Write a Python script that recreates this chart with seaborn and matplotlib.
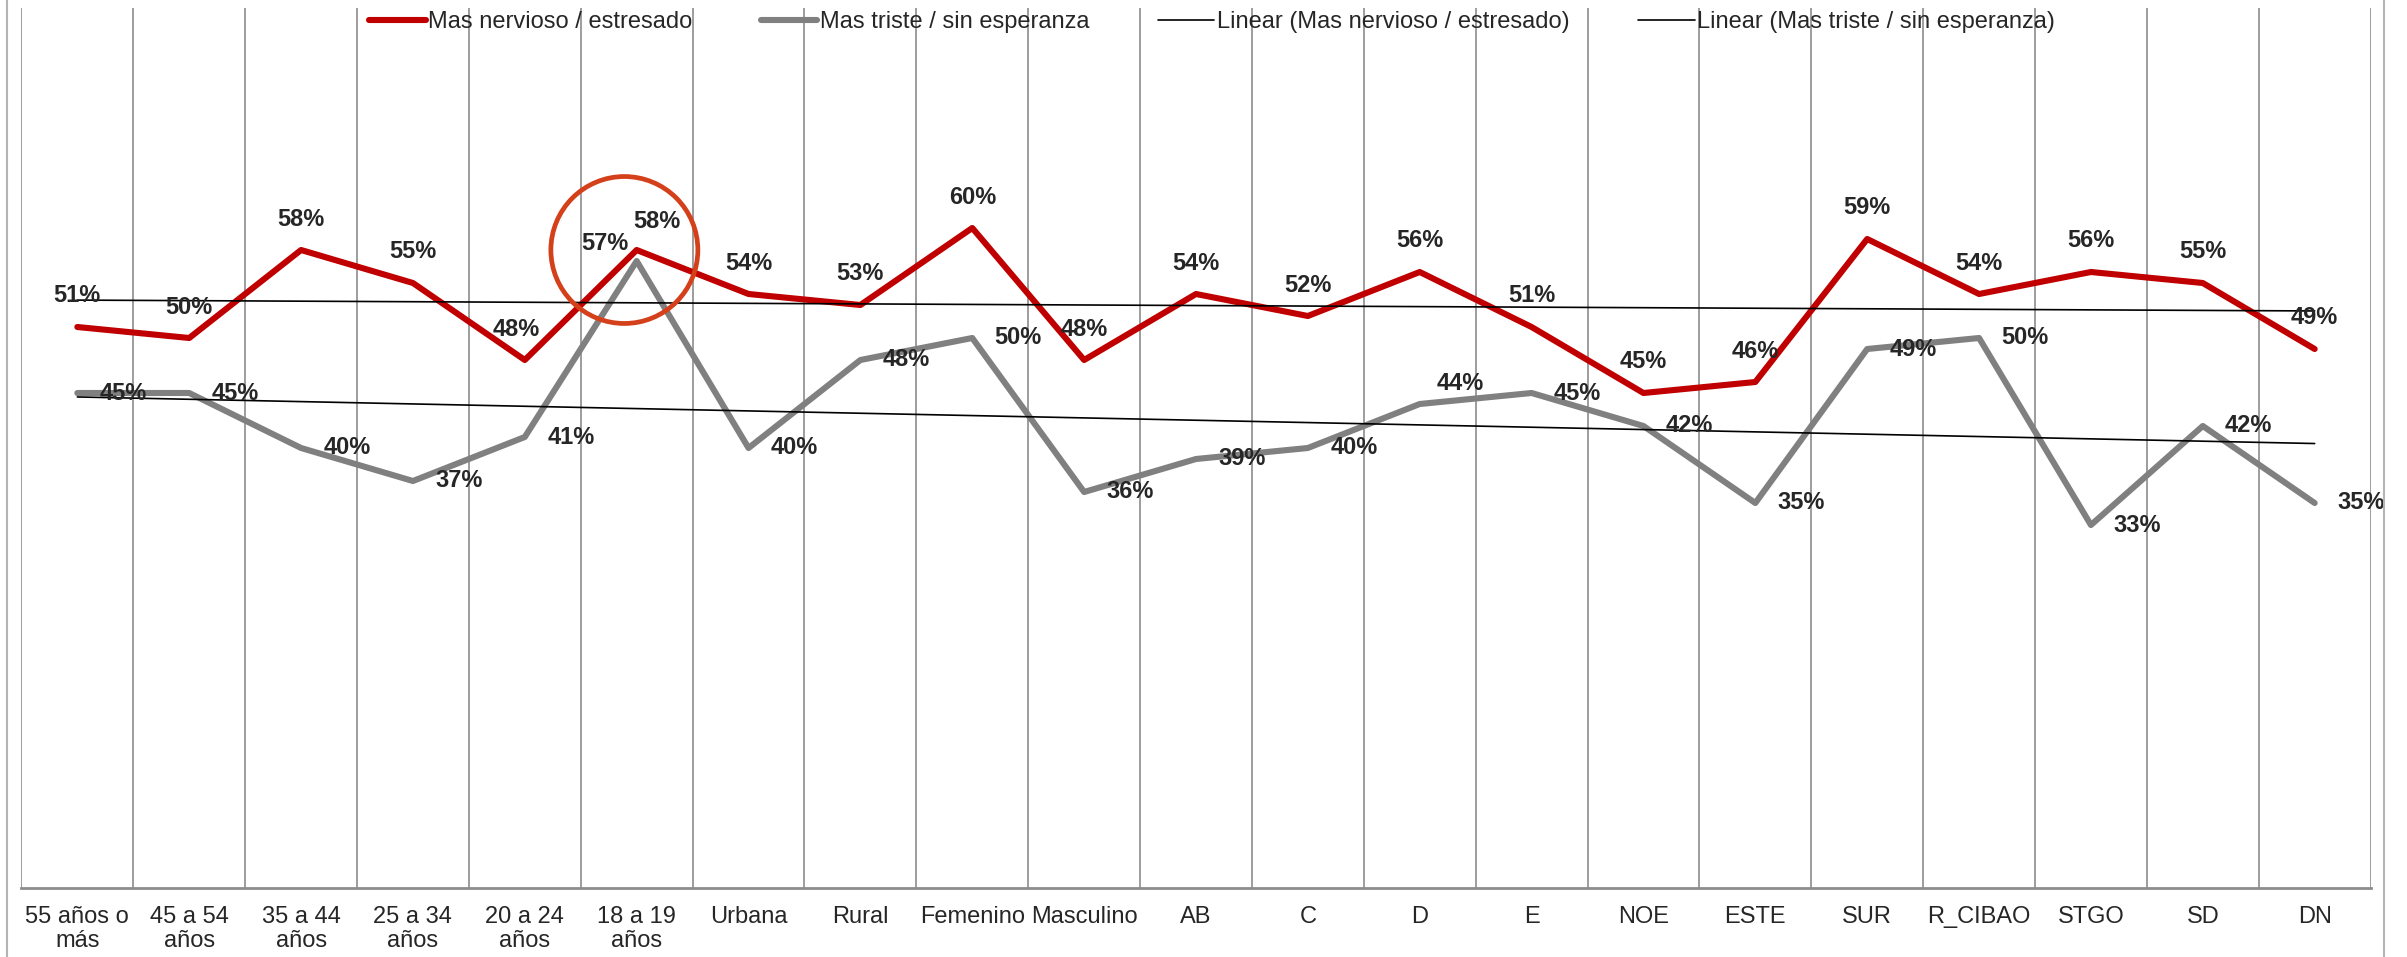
import matplotlib
matplotlib.use("Agg")
import matplotlib.pyplot as plt
from matplotlib.lines import Line2D
from matplotlib.patches import Ellipse
import numpy as np
import pandas as pd
import seaborn as sns

categories = [
    "55 años o\nmás", "45 a 54\naños", "35 a 44\naños", "25 a 34\naños",
    "20 a 24\naños", "18 a 19\naños", "Urbana", "Rural", "Femenino",
    "Masculino", "AB", "C", "D", "E", "NOE", "ESTE", "SUR", "R_CIBAO",
    "STGO", "SD", "DN",
]
nervioso = [51, 50, 58, 55, 48, 58, 54, 53, 60, 48, 54, 52, 56, 51, 45, 46, 59, 54, 56, 55, 49]
triste = [45, 45, 40, 37, 41, 57, 40, 48, 50, 36, 39, 40, 44, 45, 42, 35, 49, 50, 33, 42, 35]

lbl_nervioso = "Mas nervioso / estresado"
lbl_triste = "Mas triste / sin esperanza"

RED = "#c00000"
GREY = "#808080"
GRID = "#8c8c8c"
FS = 17
LW = 4.4

sns.set_style("white")
plt.rcParams["font.family"] = ["Liberation Sans", "DejaVu Sans"]

df = pd.DataFrame({
    "pos": np.arange(len(categories)),
    "nervioso": np.array(nervioso) / 100,
    "triste": np.array(triste) / 100,
})

W, H = 2407, 957
fig = plt.figure(figsize=(W / 100, H / 100), dpi=100)
ax = fig.add_axes([21.4 / W, 1 - 888 / H, (2370.6 - 21.4) / W, 880 / H])

sns.lineplot(data=df, x="pos", y="nervioso", color=RED, lw=LW, ax=ax)
sns.lineplot(data=df, x="pos", y="triste", color=GREY, lw=LW, ax=ax)
sns.regplot(data=df, x="pos", y="nervioso", scatter=False, ci=None, color="black", ax=ax,
            line_kws={"lw": 1.2})
sns.regplot(data=df, x="pos", y="triste", scatter=False, ci=None, color="black", ax=ax,
            line_kws={"lw": 1.2})

# data labels: red above the point, grey to the right (a few moved by hand)
red_off = {4: (-9, 31), 5: (20, 28)}
grey_off = {5: (-32, 17), 12: (41, 20)}
for i, row in df.iterrows():
    ax.annotate(f"{nervioso[i]}%", (row["pos"], row["nervioso"]), xytext=red_off.get(i, (0, 31)),
                textcoords="offset pixels", ha="center", va="center", fontsize=FS, fontweight="bold")
    ax.annotate(f"{triste[i]}%", (row["pos"], row["triste"]), xytext=grey_off.get(i, (46, 0)),
                textcoords="offset pixels", ha="center", va="center", fontsize=FS, fontweight="bold")

ax.add_patch(Ellipse((4.89, 0.58), 1.314, 0.1336, fill=False, ec="#d4401a", lw=3.4, zorder=5))

ax.set_xlim(-0.5, len(categories) - 0.5)
ax.set_ylim(0, 0.8)
ax.set_xlabel("")
ax.set_ylabel("")
ax.set_yticks([])
ax.set_xticks(df["pos"])
ax.set_xticklabels(categories, fontsize=FS, linespacing=1.1)
ax.tick_params(axis="x", which="major", length=0, pad=13)
ax.set_xticks(np.arange(-0.5, len(categories), 1), minor=True)
ax.tick_params(axis="x", which="minor", length=6, width=1, color=GRID, direction="out")
ax.grid(True, which="minor", axis="x", color=GRID, lw=1.2)
ax.grid(False, which="major")
for side in ["left", "right", "top"]:
    ax.spines[side].set_visible(False)
ax.spines["bottom"].set_color(GRID)
ax.spines["bottom"].set_linewidth(2)

handles = [
    Line2D([], [], color=RED, lw=LW),
    Line2D([], [], color=GREY, lw=LW),
    Line2D([], [], color="black", lw=1.2),
    Line2D([], [], color="black", lw=1.2),
]
labels = [lbl_nervioso, lbl_triste, f"Linear ({lbl_nervioso})", f"Linear ({lbl_triste})"]
ax.legend(handles, labels, loc="center", bbox_to_anchor=(0.5035, 0.977), bbox_transform=fig.transFigure,
          ncol=4, frameon=False, fontsize=FS, handlelength=2.4, handletextpad=0.1, columnspacing=2.9)

for xb in [7, 2384]:
    fig.add_artist(Line2D([xb / W, xb / W], [0, 1], transform=fig.transFigure, color="#b4b4b4", lw=1.5))

fig.savefig("out.png", dpi=100)
